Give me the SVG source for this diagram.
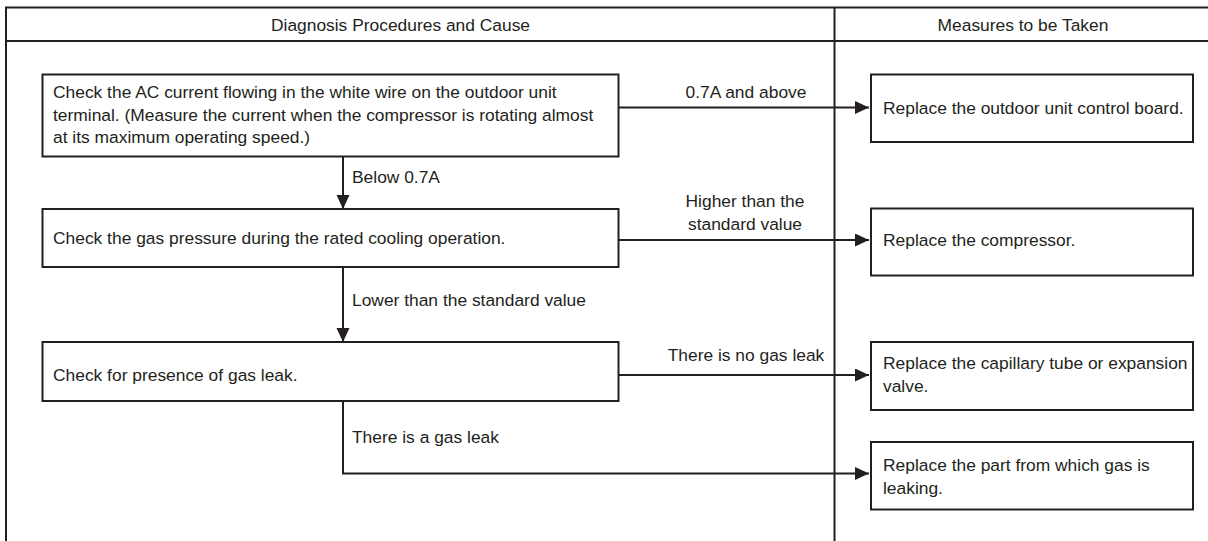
<svg xmlns="http://www.w3.org/2000/svg" width="1208" height="541" viewBox="0 0 1208 541">
<style>
.frame{fill:none;stroke:#231f20;stroke-width:2}
.box{fill:#fff;stroke:#231f20;stroke-width:2}
.conn{fill:none;stroke:#231f20;stroke-width:2}
text{font-family:"Liberation Sans",Arial,sans-serif;font-size:17.4px;fill:#231f20}
.c{text-anchor:middle}
</style>
<defs>
<marker id="ah" markerUnits="userSpaceOnUse" markerWidth="15" markerHeight="14" refX="14" refY="6.5" orient="auto">
<path d="M0,0 L14,6.5 L0,13 z" fill="#231f20"/>
</marker>
</defs>
<rect width="1208" height="541" fill="#fff"/>
<g id="table">
<path class="frame" d="M6,541 V7.5 H1210 M6,41 H1210 M834.5,7.5 V541"/>
<text class="c" x="400.5" y="31">Diagnosis Procedures and Cause</text>
<text class="c" x="1023" y="31">Measures to be Taken</text>
</g>
<g id="connectors">
<path class="conn" d="M619,107.5 H869" marker-end="url(#ah)"/>
<path class="conn" d="M343,157 V209" marker-end="url(#ah)"/>
<path class="conn" d="M619,240 H869" marker-end="url(#ah)"/>
<path class="conn" d="M343,267 V342" marker-end="url(#ah)"/>
<path class="conn" d="M619,375 H869" marker-end="url(#ah)"/>
<path class="conn" d="M343,401 V473.5 H869" marker-end="url(#ah)"/>
<text class="c" x="746" y="97.5">0.7A and above</text>
<text x="352" y="182.5">Below 0.7A</text>
<text class="c" x="745" y="207">Higher than the</text>
<text class="c" x="745" y="229.5">standard value</text>
<text x="352" y="306">Lower than the standard value</text>
<text class="c" x="746" y="361">There is no gas leak</text>
<text x="352" y="443">There is a gas leak</text>
</g>
<g id="n1">
<rect class="box" x="42.5" y="74.5" width="576" height="82"/>
<text x="53" y="98">Check the AC current flowing in the white wire on the outdoor unit</text>
<text x="53" y="120.5">terminal. (Measure the current when the compressor is rotating almost</text>
<text x="53" y="143">at its maximum operating speed.)</text>
</g>
<g id="n2">
<rect class="box" x="42.5" y="209" width="576" height="58"/>
<text x="53" y="244">Check the gas pressure during the rated cooling operation.</text>
</g>
<g id="n3">
<rect class="box" x="42.5" y="342" width="576" height="59"/>
<text x="53" y="381">Check for presence of gas leak.</text>
</g>
<g id="r1">
<rect class="box" x="871" y="74.5" width="322" height="67.5"/>
<text x="883" y="113.5">Replace the outdoor unit control board.</text>
</g>
<g id="r2">
<rect class="box" x="871" y="208.5" width="322" height="67"/>
<text x="883" y="246">Replace the compressor.</text>
</g>
<g id="r3">
<rect class="box" x="871" y="342" width="322" height="68"/>
<text x="883" y="369">Replace the capillary tube or expansion</text>
<text x="883" y="392">valve.</text>
</g>
<g id="r4">
<rect class="box" x="871" y="442" width="322" height="67.5"/>
<text x="883" y="471">Replace the part from which gas is</text>
<text x="883" y="494">leaking.</text>
</g>
</svg>
